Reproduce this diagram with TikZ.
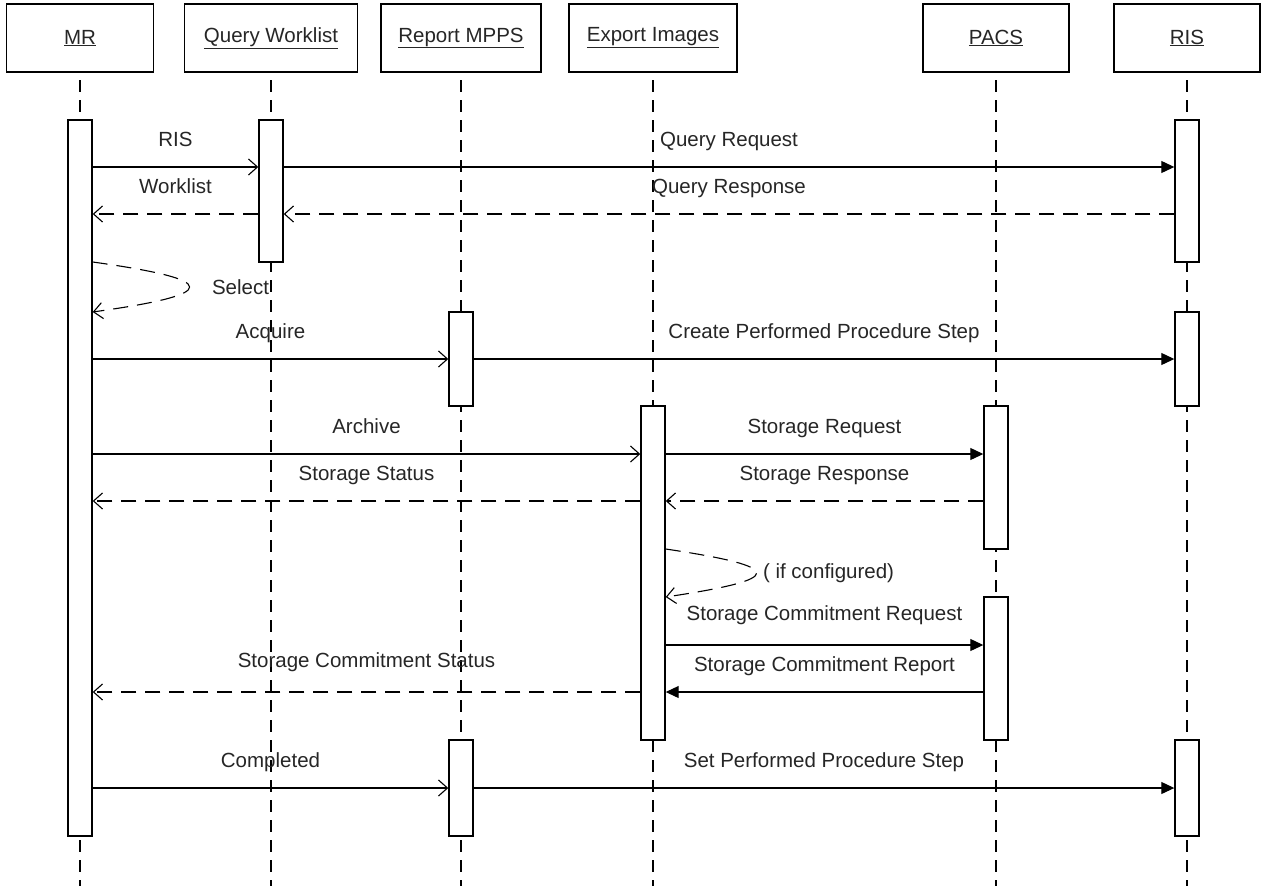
\documentclass[tikz,border=0pt]{standalone}
\usepackage{fontspec}
\setmainfont{Liberation Sans}
\usetikzlibrary{arrows.meta, positioning}

\begin{document}
\begin{tikzpicture}[x=1pt, y=-1pt,
  font=\fontsize{20.5}{24}\selectfont, text=black!85,
  lane/.style={draw, line width=1.4pt, minimum height=68pt, inner sep=0pt},
  bar/.style={draw, line width=1.4pt, fill=white, minimum width=24pt, inner sep=0pt},
  life/.style={line width=1.7pt, dash pattern=on 12pt off 8pt},
  call/.style={line width=1.1pt, -{Straight Barb[length=9pt,width=16pt]}},
  send/.style={line width=1.1pt, -{Triangle[length=13pt,width=12pt]}},
  reply/.style={call, dash pattern=on 15pt off 9pt},
  lbl/.style={anchor=base, yshift=21pt, inner sep=0pt}]

  \useasboundingbox (0,0) rectangle (1261,886);

  % lanes
  \node[lane, minimum width=147pt] (mr)   at (80,38)   {\underline{MR}};
  \node[lane, minimum width=173pt] (qw)   at (271,38)  {\underline{Query Worklist}};
  \node[lane, minimum width=160pt] (mpps) at (461,38)  {\underline{Report MPPS}};
  \node[lane, minimum width=168pt] (exp)  at (653,38)  {\underline{Export Images}};
  \node[lane, minimum width=146pt] (pacs) at (996,38)  {\underline{PACS}};
  \node[lane, minimum width=146pt] (ris)  at (1187,38) {\underline{RIS}};

  \foreach \n in {mr,qw,mpps,exp,pacs,ris}
    \draw[life] (\n |- 0,80) -- (\n |- 0,890);

  % activations
  \node[bar, minimum height=716pt] (mrA)   at (mr |- 0,478)     {};
  \node[bar, minimum height=142pt] (qwA)   at (qw |- 0,191)     {};
  \node[bar, minimum height=142pt] (risA)  at (ris |- 0,191)    {};
  \node[bar, minimum height=94pt]  (risB)  at (ris |- 0,359)    {};
  \node[bar, minimum height=96pt]  (risC)  at (ris |- 0,788)    {};
  \node[bar, minimum height=94pt]  (mppsA) at (mpps |- 0,359)   {};
  \node[bar, minimum height=96pt]  (mppsB) at (mpps |- 0,788)   {};
  \node[bar, minimum height=334pt] (expA)  at (exp |- 0,573)    {};
  \node[bar, minimum height=143pt] (pacsA) at (pacs |- 0,477.5) {};
  \node[bar, minimum height=143pt] (pacsB) at (pacs |- 0,668.5) {};

  % messages
  \draw[call] (mrA.east |- 0,167) -- node[lbl] (l1) {RIS} (qwA.west |- 0,167);
  \draw[send] (qwA.east |- 0,167) -- node[lbl] (l2) {Query Request} (risA.west |- 0,167);
  \draw[reply] (risA.west |- 0,214) -- node[lbl] (l3) {Query Response} (qwA.east |- 0,214);
  \draw[reply] (qwA.west |- 0,214) -- node[lbl] (l4) {Worklist} (mrA.east |- 0,214);
  \draw[reply] (mrA.east |- 0,262) .. controls +(129,18) and +(129,-18) .. node[right=22pt, inner sep=0pt] (l5) {Select} (mrA.east |- 0,312);

  \draw[call] (mrA.east |- 0,359) -- node[lbl] (l6) {Acquire} (mppsA.west |- 0,359);
  \draw[send] (mppsA.east |- 0,359) -- node[lbl] (l7) {Create Performed Procedure Step} (risB.west |- 0,359);

  \draw[call] (mrA.east |- 0,454) -- node[lbl] (l8) {Archive} (expA.west |- 0,454);
  \draw[send] (expA.east |- 0,454) -- node[lbl] (l9) {Storage Request} (pacsA.west |- 0,454);
  \draw[reply] (pacsA.west |- 0,501) -- node[lbl] (l10) {Storage Response} (expA.east |- 0,501);
  \draw[reply] (expA.west |- 0,501) -- node[lbl] (l11) {Storage Status} (mrA.east |- 0,501);
  \draw[reply] (expA.east |- 0,549) .. controls +(121,18) and +(121,-18) .. node[right=6pt, inner sep=0pt] (l12) {( if configured)} (expA.east |- 0,597);

  \draw[send] (expA.east |- 0,645) -- node[lbl, yshift=4pt] (l13) {Storage Commitment Request} (pacsB.west |- 0,645);
  \draw[send] (pacsB.west |- 0,692) -- node[lbl] (l14) {Storage Commitment Report} (expA.east |- 0,692);
  \draw[reply] (expA.west |- 0,692) -- node[lbl, yshift=4pt] (l15) {Storage Commitment Status} (mrA.east |- 0,692);

  \draw[call] (mrA.east |- 0,788) -- node[lbl] (l16) {Completed} (mppsB.west |- 0,788);
  \draw[send] (mppsB.east |- 0,788) -- node[lbl] (l17) {Set Performed Procedure Step} (risC.west |- 0,788);
\end{tikzpicture}
\end{document}
